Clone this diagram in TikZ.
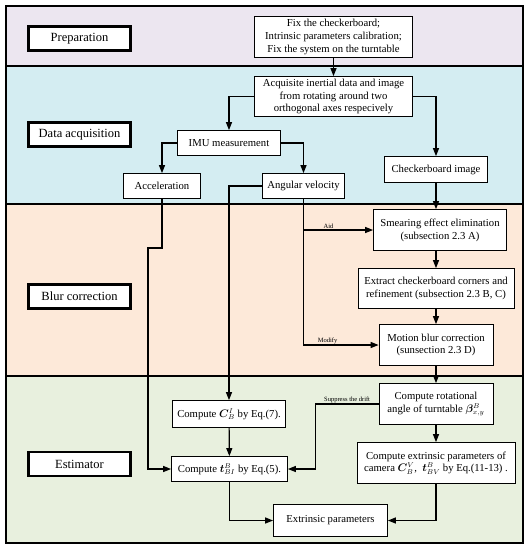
\documentclass[tikz,border=0pt]{standalone}
\usepackage{fontspec}
\setmainfont{Liberation Serif}
\usepackage{bm}
\usetikzlibrary{arrows.meta}
\definecolor{prepfill}{RGB}{236,230,240}
\definecolor{datafill}{RGB}{212,237,242}
\definecolor{blurfill}{RGB}{253,233,217}
\definecolor{estfill}{RGB}{232,240,222}

\begin{document}
\begin{tikzpicture}[x=1pt, y=-1pt,
  every node/.style = {align=center, inner sep=1pt,
    font=\fontsize{10.7}{12.8}\selectfont},
  box/.style = {draw, fill=white, line width=0.8pt},
  stage/.style = {draw, fill=white, line width=2.4pt,
    minimum width=102pt, minimum height=24pt,
    font=\fontsize{12.5}{15}\selectfont},
  flow/.style = {line width=1.2pt, -{Triangle[length=8pt,width=6pt]}},
  tag/.style = {font=\fontsize{6.5}{7}\selectfont, inner sep=0.6pt}]
  \useasboundingbox (0,0) rectangle (531,550);
  \fill[prepfill] (6,6) rectangle (523,66);
  \fill[datafill] (6,66) rectangle (523,204);
  \fill[blurfill] (6,204) rectangle (523,376);
  \fill[estfill] (6,376) rectangle (523,543);
  \draw[line width=1.3pt] (6,6) rectangle (523,543)
    (6,66) -- (523,66) (6,204) -- (523,204) (6,376) -- (523,376);

  \node[stage] (prep) at (79.5,38.5) {Preparation};
  \node[stage] (data) at (79.5,134.5) {Data acquisition};
  \node[stage] (blur) at (79.5,296.5) {Blur correction};
  \node[stage] (est) at (79.5,464) {Estimator};

  \node[box, minimum width=158pt, minimum height=41pt] (fix) at (333.5,37)
    {Fix the checkerboard;\\ Intrinsic parameters calibration;\\ Fix the system on the turntable};
  \node[box, minimum width=158pt, minimum height=40pt] (acq) at (333.5,96.5)
    {Acquisite inertial data and image\\ from rotating around two\\ orthogonal axes respecively};
  \node[box, minimum width=103pt, minimum height=25pt] (imu) at (229,143) {IMU measurement};
  \node[box, minimum width=77pt, minimum height=25pt] (acc) at (162,186) {Acceleration};
  \node[box, minimum width=82pt, minimum height=25pt] (ang) at (303.5,186) {Angular velocity};
  \node[box, minimum width=103pt, minimum height=26pt] (chk) at (436,169.5) {Checkerboard image};
  \node[box, minimum width=133pt, minimum height=41pt] (smear) at (440,230)
    {Smearing effect elimination\\ (subsection 2.3 A)};
  \node[box, minimum width=156pt, minimum height=40pt] (extract) at (436,288.5)
    {Extract checkerboard corners and\\ refinement (subsection 2.3 B, C)};
  \node[box, minimum width=114pt, minimum height=41pt] (motion) at (436,345)
    {Motion blur correction\\ (sunsection 2.3 D)};
  \node[box, minimum width=114pt, minimum height=41pt] (rot) at (436,404)
    {Compute rotational\\ angle of turntable $\bm{\beta}_{x,y}^{B}$};
  \node[box, minimum width=158pt, minimum height=41pt] (ext) at (436,463)
    {Compute extrinsic parameters of\\ camera $\bm{C}_{B}^{V}$,\ \ $\bm{t}_{BV}^{B}$\ by Eq.(11-13) .};
  \node[box, minimum width=113pt, minimum height=27pt] (compC) at (229,414) {Compute $\bm{C}_{B}^{I}$ by Eq.(7).};
  \node[box, minimum width=116pt, minimum height=25pt] (compT) at (229.5,469) {Compute $\bm{t}_{BI}^{B}$ by Eq.(5).};
  \node[box, minimum width=114pt, minimum height=32pt] (par) at (330.5,520.5) {Extrinsic parameters};

  \draw[flow] (fix) -- (acq);
  \draw[flow] (acq.west) -| (imu);
  \draw[flow] (acq.east) -| (chk);
  \draw[flow] (imu.west) -| (acc);
  \draw[flow] (imu.east) -| (ang);
  \draw[flow] (chk) -- (chk |- smear.north);
  \draw[flow] (smear.south -| chk) -- (extract);
  \draw[flow] (extract) -- (motion);
  \draw[flow] (motion) -- (rot);
  \draw[flow] (rot) -- (ext);
  \draw[flow] (acc) |- (148,248) |- (compT);
  \draw[flow] (ang.west) -| (compC);
  \draw[flow] (ang) |- (smear) node[tag, above, pos=0.68] {Aid};
  \draw[flow] (ang) |- (motion) node[tag, above, pos=0.66] {Modify};
  \draw[flow] (rot.west) -- node[tag, above] {Suppress the drift} ++(-63,0) |- (compT);
  \draw[flow] (compC) -- (compT);
  \draw[flow] (compT) |- (par);
  \draw[flow] (ext) |- (par);
\end{tikzpicture}
\end{document}
